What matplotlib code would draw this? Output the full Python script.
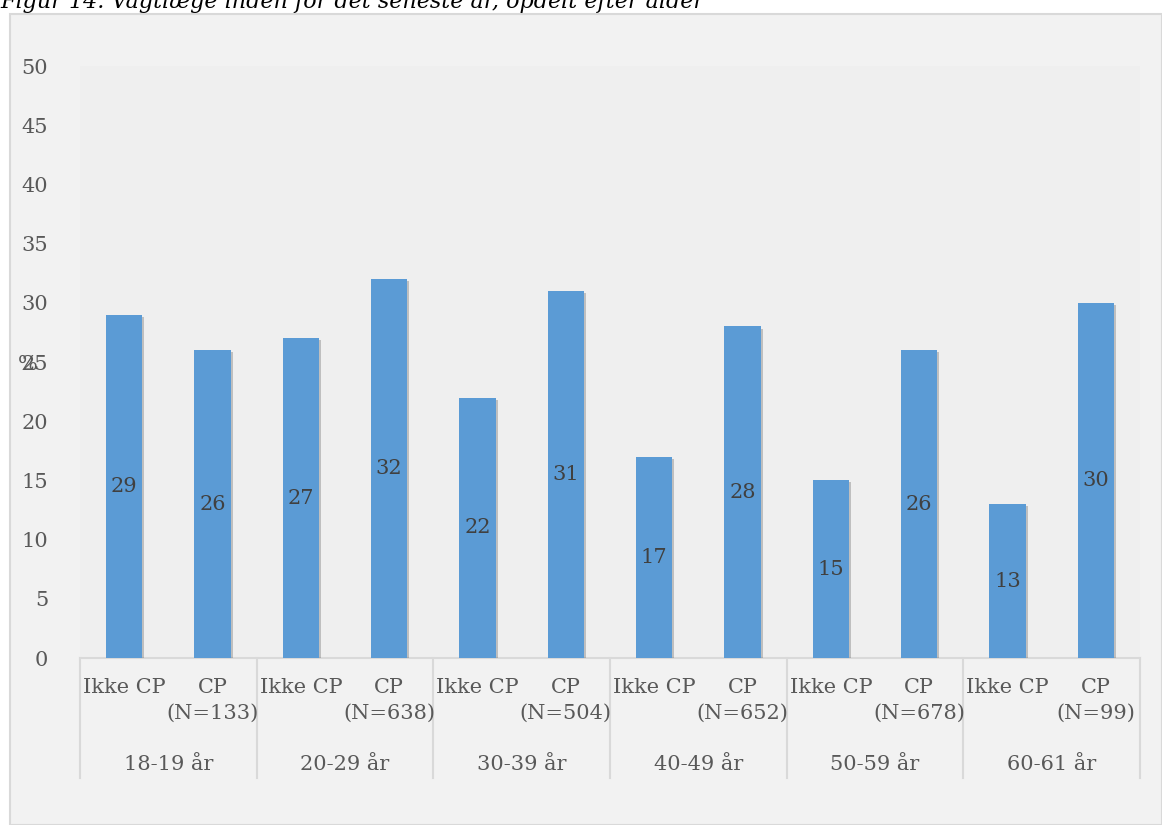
import matplotlib
matplotlib.use("Agg")
import matplotlib.pyplot as plt
import matplotlib.patheffects as pe
from matplotlib.patches import Rectangle
from matplotlib.lines import Line2D
import numpy as np

plt.rcParams['font.family'] = ['DejaVu Serif']

groups = ["18-19 år", "20-29 år", "30-39 år", "40-49 år", "50-59 år", "60-61 år"]
sub_labels = ["Ikke CP", "CP\n(N=133)", "Ikke CP", "CP\n(N=638)", "Ikke CP", "CP\n(N=504)",
              "Ikke CP", "CP\n(N=652)", "Ikke CP", "CP\n(N=678)", "Ikke CP", "CP\n(N=99)"]
values = [29, 26, 27, 32, 22, 31, 17, 28, 15, 26, 13, 30]
yticks = [0, 5, 10, 15, 20, 25, 30, 35, 40, 45, 50]
title = "Figur 14. Vagtlæge inden for det seneste år, opdelt efter alder"

W, H = 1162, 825
fig = plt.figure(figsize=(W / 100, H / 100), dpi=100)
fig.patch.set_facecolor("white")

def fy(py):
    return (H - py) / H

FS = 15
TXT = "#595959"

# chart area
bg = Rectangle((10 / W, 0), (W - 10) / W, (H - 14) / H, transform=fig.transFigure,
               facecolor="#f2f2f2", edgecolor="#d9d9d9", linewidth=1.5, zorder=-10)
fig.patches.append(bg)

# title (partially cut off at top)
fig.text(0, fy(8), title, fontsize=16, style="italic", color="black",
         ha="left", va="baseline", zorder=5)

left, right = 80 / W, 1140 / W
bottom, top = fy(658), fy(66)
ax = fig.add_axes([left, bottom, right - left, top - bottom])
ax.set_facecolor("#efefef")

n = len(values)
x = np.arange(n)
bars = ax.bar(x, values, width=0.41, color="#5b9bd5", zorder=3)
for b in bars:
    b.set_path_effects([pe.SimplePatchShadow(offset=(1.5, -1.5), shadow_rgbFace="#000000", alpha=0.2),
                        pe.Normal()])
for xi, v in zip(x, values):
    ax.text(xi, v / 2, str(v), ha="center", va="center", fontsize=FS, color="#404040", zorder=4)

ax.set_xlim(-0.5, n - 0.5)
ax.set_ylim(0, 50)
ax.set_yticks(yticks)
ax.set_yticklabels([str(t) for t in yticks], fontsize=FS, color=TXT)
ax.tick_params(axis="y", length=0, pad=23)
ax.set_xticks([])
for s in ["top", "right", "left"]:
    ax.spines[s].set_visible(False)
ax.spines["bottom"].set_color("#d9d9d9")
ax.spines["bottom"].set_linewidth(1.5)

trans = ax.get_xaxis_transform()

# sub category labels
for xi, lab in zip(x, sub_labels):
    ax.annotate(lab, xy=(xi, 0), xycoords=trans, xytext=(0, -(678 - 658)), textcoords="offset pixels",
                ha="center", va="top", fontsize=FS, color=TXT, linespacing=1.42,
                annotation_clip=False)

# group labels and separators
ng = len(groups)
per = n // ng
for gi, g in enumerate(groups):
    cx = gi * per + (per - 1) / 2
    ax.annotate(g, xy=(cx, 0), xycoords=trans, xytext=(0, -(765 - 658)), textcoords="offset pixels",
                ha="center", va="center", fontsize=FS, color=TXT, annotation_clip=False)
sep_len = (778 - 658) / (658 - 66)
for k in range(ng + 1):
    xb = k * per - 0.5
    ax.add_line(Line2D([xb, xb], [0, -sep_len], transform=trans,
                       color="#d9d9d9", linewidth=1.5, clip_on=False))

fig.text(28 / W, fy(365), "%", fontsize=FS, color=TXT, ha="center", va="center")

fig.savefig("out.png", dpi=100, facecolor=fig.get_facecolor())
